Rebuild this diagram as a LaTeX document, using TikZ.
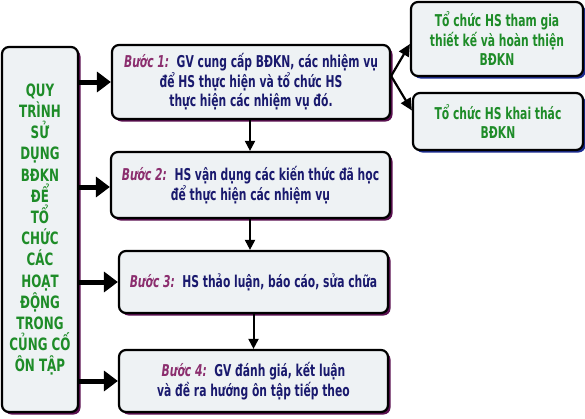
\documentclass[tikz,border=0pt]{standalone}
\usepackage{fontspec}
\setmainfont{DejaVu Sans}[FakeStretch=0.66,BoldFont={DejaVu Sans Bold},BoldItalicFont={DejaVu Sans Bold Oblique}]
\newfontfamily\leftfont{DejaVu Sans Bold}[FakeStretch=0.7]
\usetikzlibrary{shadows,arrows.meta}
\definecolor{boxfill}{HTML}{EEF2F4}
\definecolor{shpurple}{HTML}{5A1050}
\definecolor{shblue}{HTML}{1C2C90}
\definecolor{txtnavy}{HTML}{1A1A6E}
\definecolor{txtgreen}{HTML}{1E8C28}
\definecolor{txtstep}{HTML}{8B2E6E}
\newcommand{\stepname}[1]{{\color{txtstep}\itshape #1}}
\tikzset{
  box/.style={draw=black, line width=2.2pt, rounded corners=7pt, fill=boxfill,
    inner sep=2pt, align=center},
  stepbox/.style={box, text=txtnavy, font=\bfseries\fontsize{16.3}{19.5}\selectfont,
    drop shadow={shadow xshift=2.5pt, shadow yshift=-2.5pt, fill=shpurple, opacity=1}},
  sidebox/.style={box, text=txtgreen, font=\bfseries\fontsize{16.3}{19.5}\selectfont,
    drop shadow={shadow xshift=2.5pt, shadow yshift=-2.5pt, fill=shblue, opacity=1}},
  mainbox/.style={box, text=txtgreen, font=\leftfont\fontsize{17}{21.2}\selectfont,
    drop shadow={shadow xshift=2.5pt, shadow yshift=-2.5pt, fill=shpurple, opacity=1}},
  bigarrow/.style={line width=5pt, -{Triangle[length=14pt,width=20pt]}},
  thinarrow/.style={line width=2pt, -{Triangle[length=10pt,width=10pt]}},
  diagarrow/.style={line width=2.2pt, -{Triangle[length=12pt,width=11pt]}},
}
\begin{document}
\begin{tikzpicture}[x=1pt,y=-1pt]
\useasboundingbox (0,0) rectangle (585,418);
\node[mainbox, minimum width=76pt, minimum height=365pt] (L) at (40,229.5)
  {QUY\\TRÌNH\\SỬ\\DỤNG\\BĐKN\\ĐỂ\\TỔ\\CHỨC\\CÁC\\HOẠT\\ĐỘNG\\TRONG\\CỦNG CỐ\\ÔN TẬP};
\node[stepbox, minimum width=278pt, minimum height=74pt] (S1) at (251,82)
  {\stepname{Bước 1:}\ \ GV cung cấp BĐKN, các nhiệm vụ\\để HS thực hiện và tổ chức HS\\thực hiện các nhiệm vụ đó.};
\node[stepbox, minimum width=279pt, minimum height=66pt] (S2) at (250.5,185)
  {\stepname{Bước 2:}\ \ HS vận dụng các kiến thức đã học\\để thực hiện các nhiệm vụ};
\node[stepbox, minimum width=269pt, minimum height=62pt] (S3) at (253.5,282)
  {\stepname{Bước 3:}\ \ HS thảo luận, báo cáo, sửa chữa};
\node[stepbox, minimum width=269pt, minimum height=62pt] (S4) at (253.5,381)
  {\stepname{Bước 4:}\ \ GV đánh giá, kết luận\\và đề ra hướng ôn tập tiếp theo};
\node[sidebox, minimum width=172pt, minimum height=74pt] (R1) at (497,39)
  {Tổ chức HS tham gia\\thiết kế và hoàn thiện\\BĐKN};
\node[sidebox, minimum width=170pt, minimum height=57pt] (R2) at (498,121.5)
  {Tổ chức HS khai thác\\BĐKN};
% thick arrows
\draw[bigarrow] (L.east |- S1.west) -- (S1.west);
\draw[bigarrow] ([yshift=-2pt]L.east |- S2.west) -- ([yshift=-2pt]S2.west);
\draw[bigarrow] (L.east |- S3.west) -- (S3.west);
\draw[bigarrow] (L.east |- S4.west) -- (S4.west);
% vertical arrows
\draw[thinarrow] ([xshift=-1pt]S1.south) -- ([xshift=-1pt]S1.south |- S2.north);
\draw[thinarrow] ([xshift=-0.5pt]S2.south) -- ([xshift=-0.5pt]S2.south |- S3.north);
\draw[thinarrow] (S3.south) -- (S3.south |- S4.north);
% diagonal arrows
\coordinate (fork) at ([yshift=6pt]S1.east);
\draw[diagarrow] (fork) -- ([yshift=-5pt]R1.west);
\draw[diagarrow] (fork) -- ([yshift=11pt]R2.west);
\end{tikzpicture}
\end{document}
